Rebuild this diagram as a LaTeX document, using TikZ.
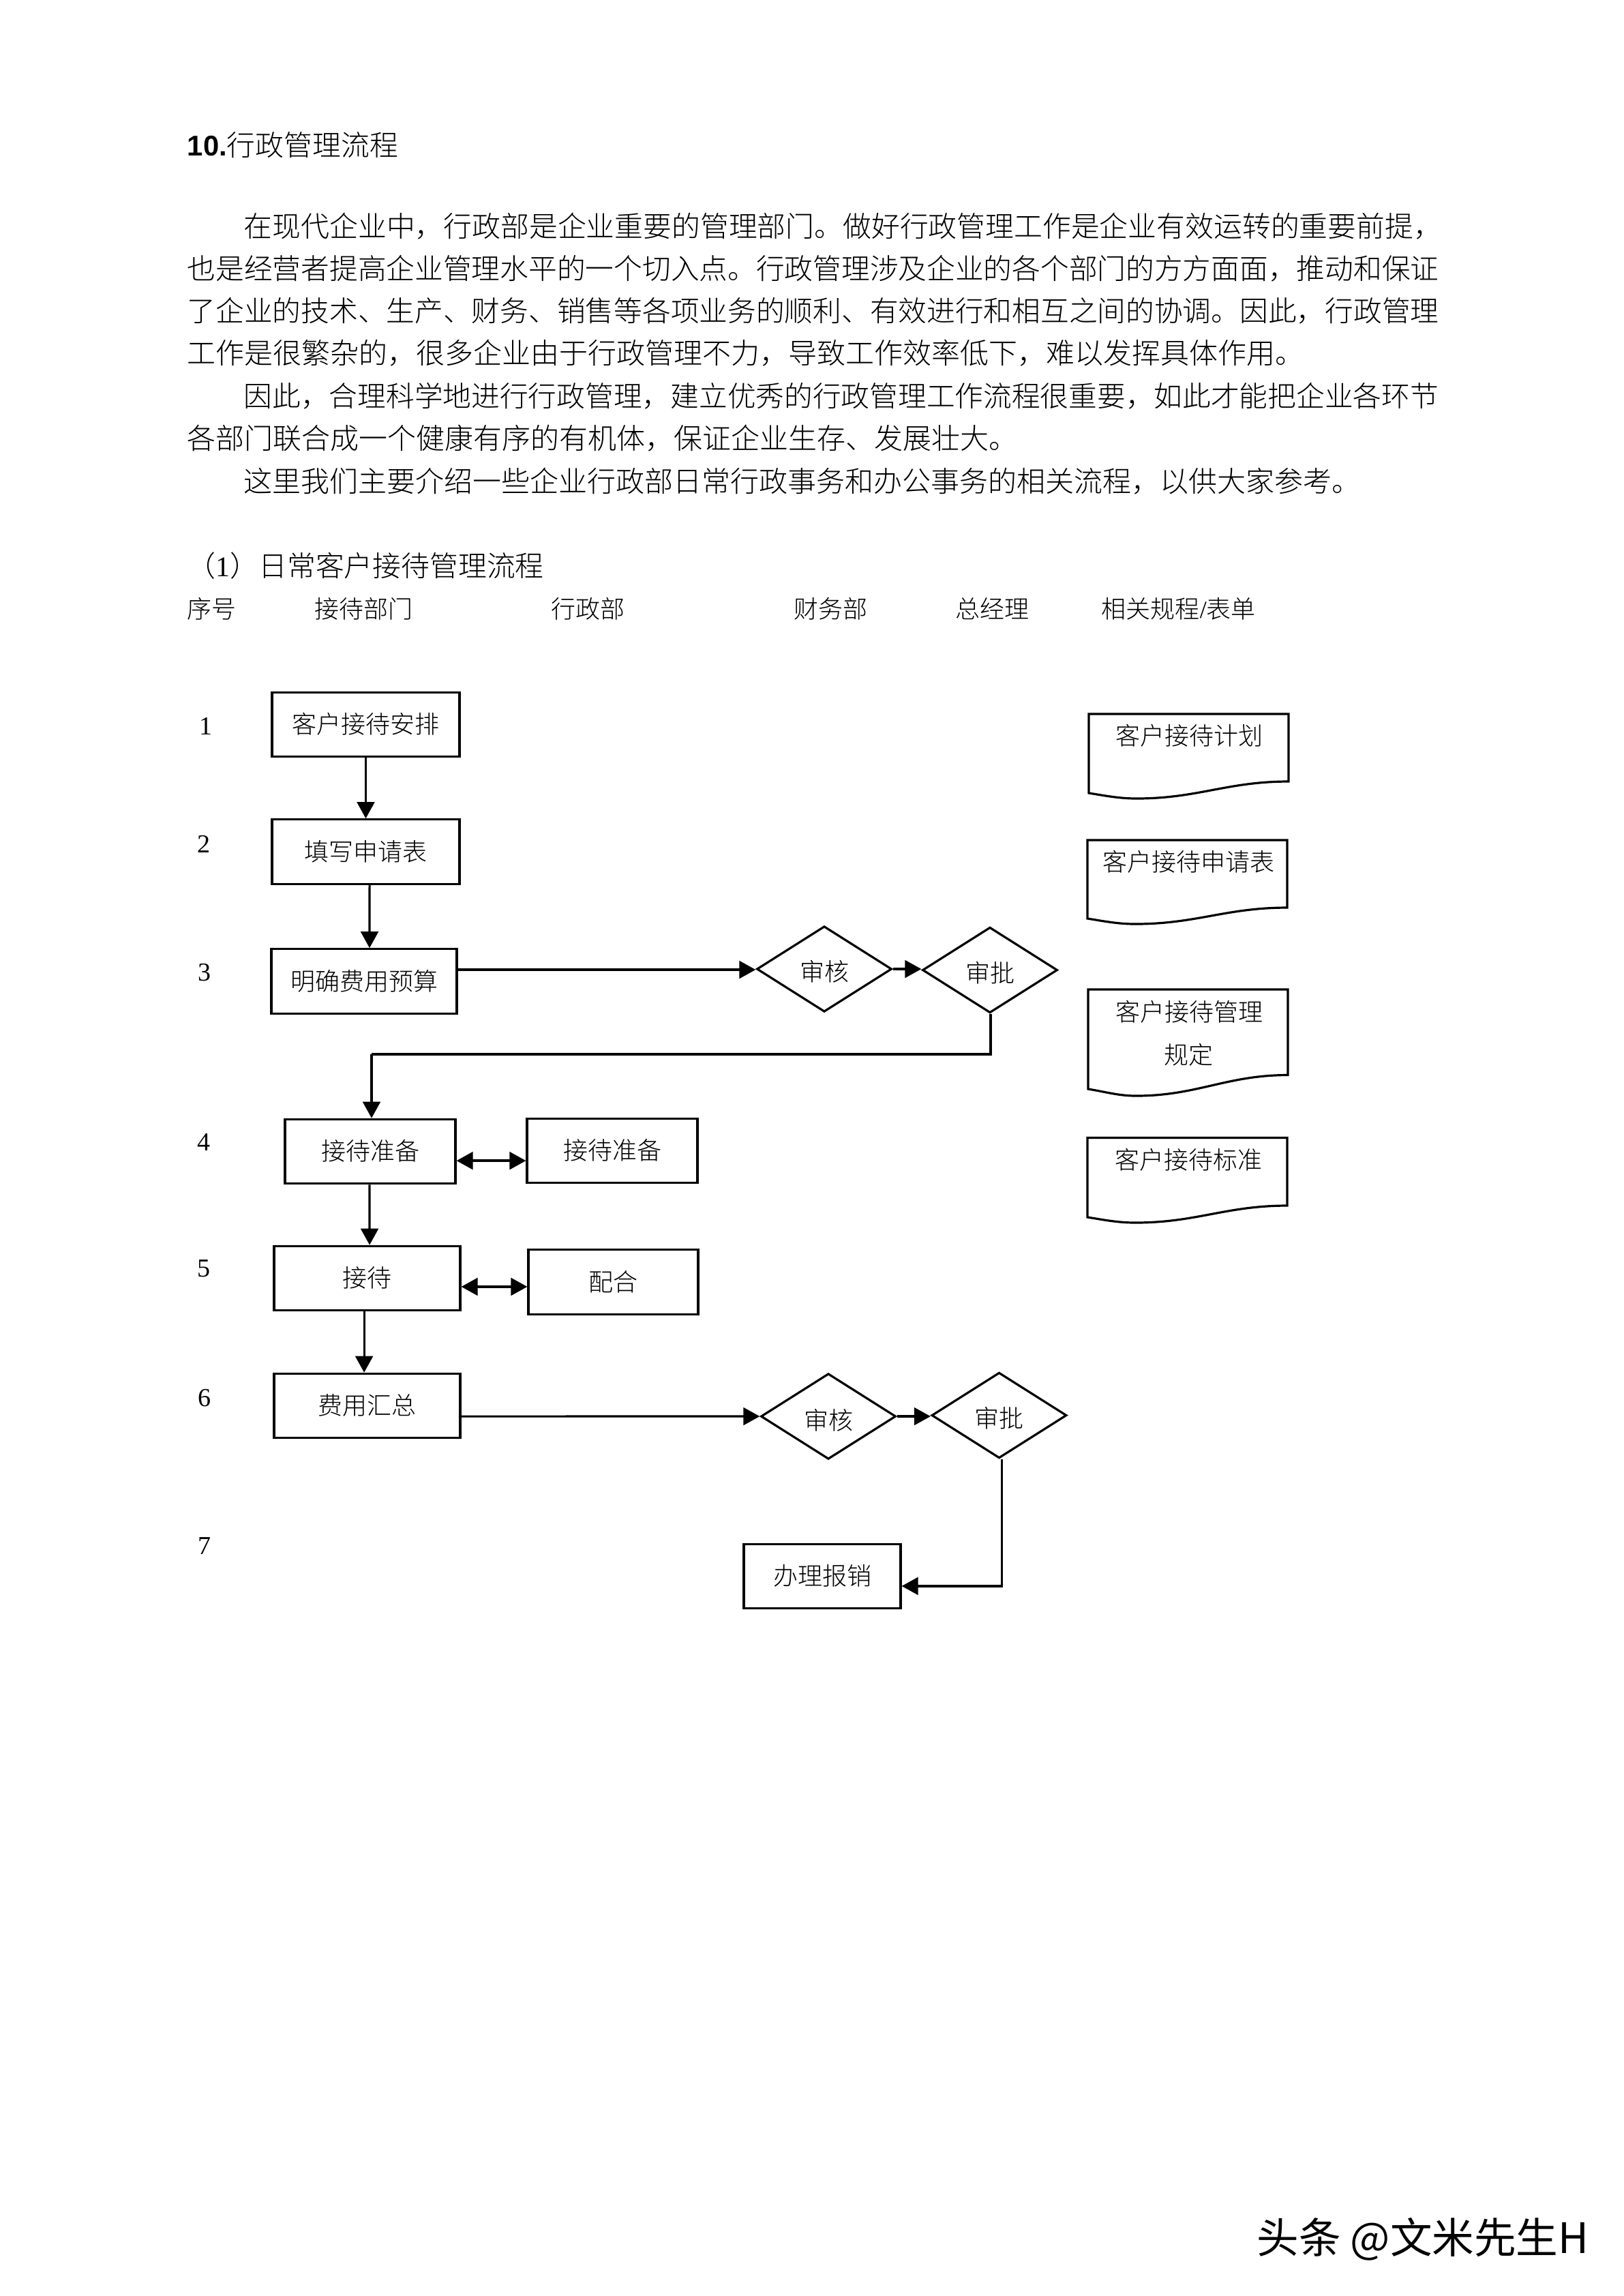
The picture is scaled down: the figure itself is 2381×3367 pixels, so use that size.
\documentclass[tikz,border=0pt]{standalone}
\usepackage{fontspec}
\usetikzlibrary{arrows.meta,shapes.geometric}
\setmainfont{Liberation Serif}
\newfontfamily\cjk{Noto Sans CJK SC Light}
\newfontfamily\cjkreg{Noto Sans CJK SC}
\newfontfamily\arialb{Liberation Sans}
\newcommand{\docshape}[6]{%
  \draw[docline] (#1,#3) -- (#2,#3) -- (#2,#4)
    .. controls (#2-90,#4) and (#1+160,#6) .. (#1+70,#6)
    .. controls (#1+45,#6) and (#1+25,#5+4) .. (#1,#5) -- cycle;}
\tikzset{
  cjktext/.style={font=\cjk\fontsize{9}{11}\selectfont,inner sep=0pt,text height=.84em,text depth=.19em},
  flowbox/.style={cjktext,draw=black,line width=.8pt,minimum height=23.6pt,align=center},
  gate/.style={cjktext,draw=black,line width=.8pt,shape=diamond,minimum width=49.5pt,minimum height=31.4pt},
  docline/.style={draw=black,line width=.8pt},
  flow/.style={draw=black,line width=.8pt,-{Triangle[length=6pt,width=6.4pt]}},
  plain/.style={draw=black,line width=.85pt},
  both/.style={draw=black,line width=.85pt,{Triangle[length=6pt,width=6.4pt]}-{Triangle[length=6pt,width=6.4pt]}},
  para/.style={anchor=base west,inner sep=0pt,font=\cjk\fontsize{10.43}{12}\selectfont},
  paramid/.style={anchor=base west,inner sep=0pt,font=\cjk\fontsize{10.46}{12}\selectfont},
  paralong/.style={anchor=base west,inner sep=0pt,font=\cjk\fontsize{10.5}{12}\selectfont},
  head/.style={anchor=base west,inner sep=0pt,font=\cjk\fontsize{9}{11}\selectfont},
  num/.style={inner sep=0pt,font=\rmfamily\fontsize{9.5}{11}\selectfont,text height=.66em,text depth=0pt},
}
\begin{document}
\begin{tikzpicture}[x=.25pt,y=-.25pt]
\useasboundingbox (0,0) rectangle (2381,3367);
% page text
\node[paramid] (title) at (274,228) {{\arialb\bfseries 10.}行政管理流程};
\node[paramid] (l1) at (357,347) {在现代企业中，行政部是企业重要的管理部门。做好行政管理工作是企业有效运转的重要前提，};
\node[para] (l2) at (274,409) {也是经营者提高企业管理水平的一个切入点。行政管理涉及企业的各个部门的方方面面，推动和保证};
\node[para] (l3) at (274,471) {了企业的技术、生产、财务、销售等各项业务的顺利、有效进行和相互之间的协调。因此，行政管理};
\node[paralong] (l4) at (274,533) {工作是很繁杂的，很多企业由于行政管理不力，导致工作效率低下，难以发挥具体作用。};
\node[para] (l5) at (357,596) {因此，合理科学地进行行政管理，建立优秀的行政管理工作流程很重要，如此才能把企业各环节};
\node[paralong] (l6) at (274,658) {各部门联合成一个健康有序的有机体，保证企业生存、发展壮大。};
\node[paralong] (l7) at (357,721) {这里我们主要介绍一些企业行政部日常行政事务和办公事务的相关流程，以供大家参考。};
\node[paramid] (sec) at (274,845) {（{\rmfamily 1}）日常客户接待管理流程};
\node[head] (h1) at (274,906) {序号};
\node[head] (h2) at (461,906) {接待部门};
\node[head] (h3) at (808,906) {行政部};
\node[head] (h4) at (1164,906) {财务部};
\node[head] (h5) at (1401,906) {总经理};
\node[head] (h6) at (1615,906) {相关规程{\rmfamily /}表单};
% step numbers
\node[num] (n1) at (302,1064) {1};
\node[num] (n2) at (299,1237) {2};
\node[num] (n3) at (300,1425) {3};
\node[num] (n4) at (299,1674) {4};
\node[num] (n5) at (299,1859) {5};
\node[num] (n6) at (300,2049) {6};
\node[num] (n7) at (300,2266) {7};
% boxes
\node[flowbox,minimum width=68.75pt] (b1) at (536.5,1062.5) {客户接待安排};
\node[flowbox,minimum width=68.75pt] (b2) at (536.5,1249) {填写申请表};
\node[flowbox,minimum width=68pt] (b3) at (534,1439) {明确费用预算};
\node[flowbox,minimum width=62.5pt] (b4) at (543,1688.5) {接待准备};
\node[flowbox,minimum width=62.5pt] (b4b) at (898,1687.5) {接待准备};
\node[flowbox,minimum width=68.25pt] (b5) at (538.5,1874.5) {接待};
\node[flowbox,minimum width=62.25pt] (b5b) at (899.5,1880) {配合};
\node[flowbox,minimum width=68.25pt] (b6) at (538.5,2061.5) {费用汇总};
\node[flowbox,minimum width=57.5pt] (b7) at (1206,2311.5) {办理报销};
% decisions
\node[gate] (d1) at (1209,1421) {\raisebox{-1.2pt}{审核}};
\node[gate] (d2) at (1452,1422.5) {\raisebox{-1.2pt}{审批}};
\node[gate] (d3) at (1215,2077) {\raisebox{-1.5pt}{审核}};
\node[gate] (d4) at (1465.5,2075.5) {\raisebox{-1.2pt}{审批}};
\coordinate (c1) at (545,1546);
% connectors
\draw[flow] (b1.south) -- (b2.north);
\draw[flow] ([xshift=1.4pt]b2.south) -- ([xshift=2pt]b3.north);
\draw[flow] ([yshift=4.25pt]b3.east) -- ([yshift=4.25pt]b3.east -| d1.west);
\draw[flow] (d1.east) -- (d1.east -| d2.west);
\draw[plain] ([xshift=.25pt]d2.south) |- (c1);
\draw[flow] (c1) -- ([xshift=.5pt]b4.north);
\draw[both] ([yshift=-3.4pt]b4.east) -- ([yshift=-3.4pt]b4.east -| b4b.west);
\draw[flow] ([xshift=-.25pt]b4.south) -- ([xshift=.9pt]b5.north);
\draw[both] ([yshift=-3.1pt]b5.east) -- ([yshift=-3.1pt]b5.east -| b5b.west);
\draw[flow] ([xshift=-1.1pt]b5.south) -- ([xshift=-1.1pt]b6.north);
\draw[flow] ([yshift=-3.9pt]b6.east) -- (d3.west);
\draw[flow] (d3.east) -- (d3.east -| d4.west);
\draw[flow] ([xshift=.9pt]d4.south) |- ([yshift=-3.6pt]b7.east);
% documents
\docshape{1597}{1890}{1047}{1146}{1163}{1171}
\docshape{1595}{1888}{1232}{1331}{1347}{1355}
\docshape{1596}{1889}{1451}{1576.5}{1597}{1607}
\docshape{1595}{1888}{1668.5}{1768}{1785}{1793}
\node[cjktext] (t1) at (1744,1079) {客户接待计划};
\node[cjktext] (t2) at (1743,1264) {客户接待申请表};
\node[cjktext] (t3) at (1744,1484) {客户接待管理};
\node[cjktext] (t3b) at (1743,1547) {规定};
\node[cjktext] (t4) at (1743,1701) {客户接待标准};
% watermark
\node[anchor=west,inner sep=0pt,font=\cjkreg\fontsize{15.4}{17}\selectfont] (wm) at (1843,3284) {头条 @文米先生H};
\end{tikzpicture}
\end{document}
